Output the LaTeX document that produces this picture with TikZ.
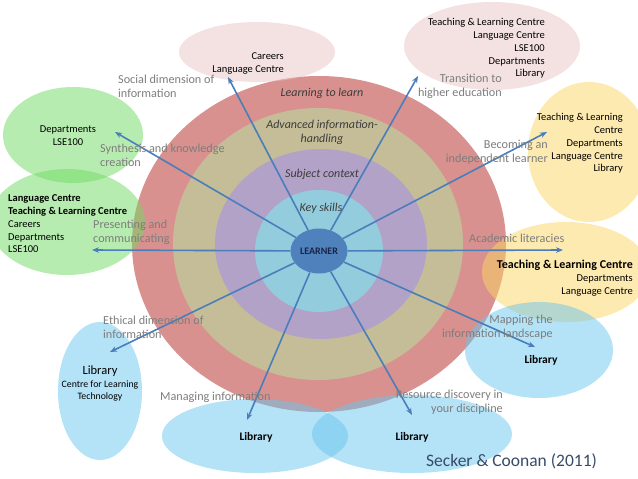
\documentclass[tikz,border=0pt]{standalone}
\usepackage{fontspec}
\setmainfont{Carlito}
\usepackage{tikz}
\usetikzlibrary{arrows.meta, positioning, shapes.geometric}
\definecolor{ringred}{RGB}{217,145,143}
\definecolor{ringtan}{RGB}{196,189,151}
\definecolor{ringpurple}{RGB}{179,162,199}
\definecolor{ringcyan}{RGB}{147,205,221}
\definecolor{learnerblue}{RGB}{79,129,189}
\definecolor{spokeblue}{RGB}{74,126,187}
\definecolor{blobpink}{RGB}{233,197,197}
\definecolor{blobgreen}{RGB}{112,218,97}
\definecolor{blobyellow}{RGB}{252,213,97}
\definecolor{blobblue}{RGB}{105,197,238}
\definecolor{labelgray}{RGB}{125,125,125}
\definecolor{ringtext}{RGB}{60,60,60}
\definecolor{learnertext}{RGB}{25,35,70}
\definecolor{citeblue}{RGB}{55,75,105}

\begin{document}
\begin{tikzpicture}[x=1pt, y=-1pt,
  blob/.style={fill opacity=0.5},
  spoke/.style={-{Stealth[length=7pt, width=5.5pt]}, spokeblue, line width=1.6pt},
  dim/.style={text=labelgray, font=\fontsize{12.2}{13.8}\selectfont, inner sep=0pt},
  layer/.style={text=ringtext, font=\fontsize{12}{14}\selectfont\itshape,
                inner sep=0pt, align=center},
  who/.style={text=black, font=\fontsize{10.5}{12.75}\selectfont, inner sep=0pt},
  lib/.style={text=black, font=\fontsize{11.5}{13}\selectfont\bfseries, inner sep=0pt}
]
  \useasboundingbox (0,0) rectangle (638,479);

  % rings
  \fill[ringred]    (319,244) ellipse [x radius=187pt, y radius=168pt];
  \fill[ringtan]    (318,244) ellipse [x radius=145pt, y radius=136pt];
  \fill[ringpurple] (321,244) ellipse [x radius=106pt, y radius=95pt];
  \fill[ringcyan]   (319,251) ellipse [x radius=64pt,  y radius=61pt];

  \node[ellipse, fill=learnerblue, minimum width=57pt, minimum height=45pt,
        inner sep=0pt, text=learnertext, font=\fontsize{10}{11}\selectfont\bfseries]
    (learner) at (319,251) {LEARNER};

  % coloured groups
  \fill[blob, blobpink]   (257,52)  ellipse [x radius=78pt, y radius=30pt];
  \fill[blob, blobpink]   (492,46)  ellipse [x radius=88pt, y radius=44pt];
  \fill[blob, blobgreen]  (73,135)  ellipse [x radius=70pt, y radius=48pt];
  \fill[blob, blobgreen]  (67,222)  ellipse [x radius=78pt, y radius=53pt];
  \fill[blob, blobyellow] (589,152) ellipse [x radius=61pt, y radius=70pt];
  \fill[blob, blobyellow] (566,272) ellipse [x radius=84pt, y radius=50pt];
  \fill[blob, blobblue]   (539,350) ellipse [x radius=74pt, y radius=48pt];
  \fill[blob, blobblue]   (100,391) ellipse [x radius=42pt, y radius=69pt];
  \fill[blob, blobblue]   (255,436) ellipse [x radius=93pt, y radius=37pt];
  \fill[blob, blobblue]   (412,434) ellipse [x radius=100pt, y radius=39pt];

  % arrow tips
  \coordinate (tipcareers)  at (228,77);
  \coordinate (tiptrans)    at (418,76);
  \coordinate (tipsynth)    at (115,132);
  \coordinate (tipindep)    at (547,132);
  \coordinate (tippresent)  at (92,250);
  \coordinate (tipacad)     at (563,250);
  \coordinate (tipethic)    at (110,352);
  \coordinate (tipmap)      at (535,347);
  \coordinate (tipmanage)   at (247,420);
  \coordinate (tipresource) at (412,415);

  \foreach \t in {tipcareers, tiptrans, tipsynth, tipindep, tippresent,
                  tipacad, tipethic, tipmap, tipmanage, tipresource}
    \draw[spoke] (learner) -- (\t);

  % ring names
  \node[layer] (learn)   at (322,93)  {Learning to learn};
  \node[layer] (advance) at (322,132) {Advanced information-\\handling};
  \node[layer] (subject) at (322,174) {Subject context};
  \node[layer] (key)     at (321,208) {Key skills};

  % dimensions
  \node[dim, align=left,  anchor=west] (social)   at (118,86)  {Social dimension of\\information};
  \node[dim, align=right, anchor=east] (trans)    at (502,86)  {Transition to\\higher education};
  \node[dim, align=left,  anchor=west] (synth)    at (100,155) {Synthesis and knowledge\\creation};
  \node[dim, align=right, anchor=east] (indep)    at (548,152) {Becoming an\\independent learner};
  \node[dim, align=left,  anchor=west] (present)  at (93,232)  {Presenting and\\communicating};
  \node[dim, anchor=west]              (acad)     at (469,238) {Academic literacies};
  \node[dim, align=left,  anchor=west] (ethic)    at (103,327) {Ethical dimension of\\information};
  \node[dim, align=right, anchor=east] (map)      at (553,327) {Mapping the\\information landscape};
  \node[dim, anchor=west]              (manage)   at (160,397) {Managing information};
  \node[dim, align=right, anchor=east] (resource) at (503,402) {Resource discovery in\\your discipline};

  % who supports what
  \node[who, align=right, anchor=east] (grpcareers) at (284,63.5)
    {Careers\\Language Centre};
  \node[who, align=right, anchor=east] (grptrans) at (545,48.5)
    {Teaching \& Learning Centre\\Language Centre\\LSE100\\Departments\\Library};
  \node[who, align=center] (grpsynth) at (68,136) {Departments\\LSE100};
  \node[who, align=left, anchor=west] (grppresent) at (8,224)
    {\textbf{Language Centre}\\\textbf{Teaching \& Learning Centre}\\Careers\\Departments\\LSE100};
  \node[who, align=right, anchor=east] (grpindep) at (623,143.5)
    {Teaching \& Learning\\Centre\\Departments\\Language Centre\\Library};
  \node[who, align=right, anchor=east] (grpacad) at (633,278)
    {{\fontsize{12}{13.5}\selectfont\bfseries Teaching \& Learning Centre}\\Departments\\Language Centre};
  \node[lib] (grpmap) at (541,360) {Library};
  \node[who, align=center] (grpethic) at (100,383.5)
    {{\fontsize{12.5}{12}\selectfont Library}\\{\fontsize{9.8}{12.5}\selectfont Centre for Learning}\\{\fontsize{9.8}{12.5}\selectfont Technology}};
  \node[lib] (grpmanage) at (256,437) {Library};
  \node[lib] (grpresource) at (412,437) {Library};

  \node[text=citeblue, font=\fontsize{17.5}{20}\selectfont, anchor=west, inner sep=0pt]
    (cite) at (426,461) {Secker \& Coonan (2011)};
\end{tikzpicture}
\end{document}
